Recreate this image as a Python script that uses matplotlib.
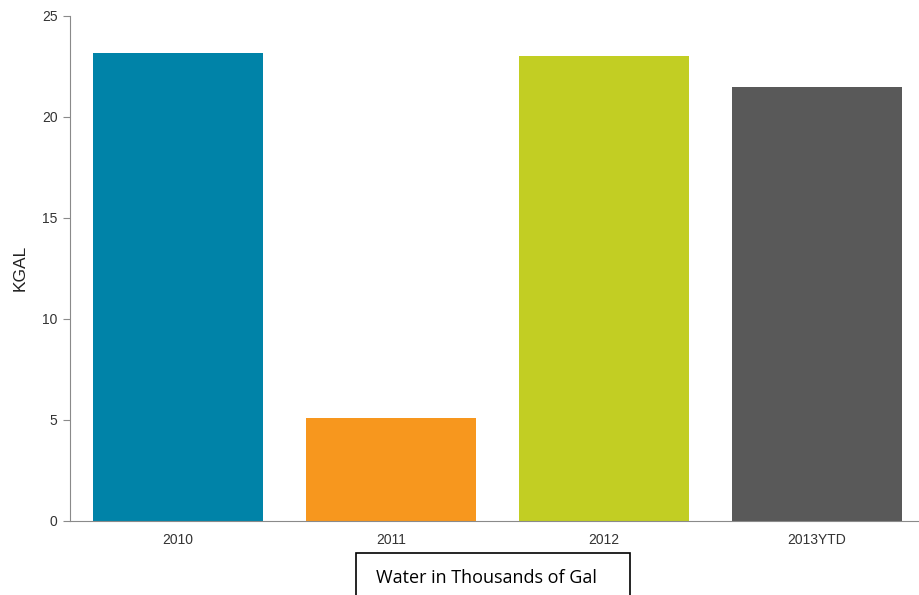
import matplotlib.pyplot as plt
from matplotlib.patches import Rectangle

# Water use per year, thousands of gallons
years = ["2010", "2011", "2012", "2013YTD"]
kgal = [23.14, 5.10, 23.02, 21.49]
bar_colors = ["#0083A8", "#F7971E", "#C2CE23", "#595959"]
y_ticks = [0, 5, 10, 15, 20, 25]

plt.rcParams['font.family'] = ['Liberation Sans', 'DejaVu Sans']

fig = plt.figure(figsize=(9.19, 5.95), dpi=100)
ax = fig.add_axes([70 / 919, 74.3 / 595, 849 / 919, 505 / 595])

x = list(range(len(years)))
ax.bar(x, kgal, width=0.8, color=bar_colors, edgecolor="none")

ax.set_xlim(-0.507, 3.48)
ax.set_ylim(0, 25)
ax.set_yticks(y_ticks)
ax.set_xticks(x)
ax.set_xticklabels(years)

for side in ["top", "right"]:
    ax.spines[side].set_visible(False)
ax.spines["left"].set_color("#8a8a8a")
ax.spines["bottom"].set_color("#8a8a8a")
ax.tick_params(axis="y", length=5, color="#8a8a8a", labelcolor="#333333", labelsize=10, pad=4)
ax.tick_params(axis="x", length=0, labelcolor="#333333", labelsize=10, pad=9)

ax.set_ylabel("KGAL", fontsize=12.5, color="#222222", labelpad=10)

# caption box under the chart
fig.patches.append(Rectangle((356 / 919, -10 / 595), 274 / 919, 52.5 / 595,
                             transform=fig.transFigure, fill=False,
                             edgecolor="black", linewidth=1.2))
fig.text(376 / 919, 17 / 595, "Water in Thousands of Gal", fontsize=13,
         family=["Open Sans", "DejaVu Sans"], color="black", va="center", ha="left")

fig.savefig("out.png", dpi=100)
